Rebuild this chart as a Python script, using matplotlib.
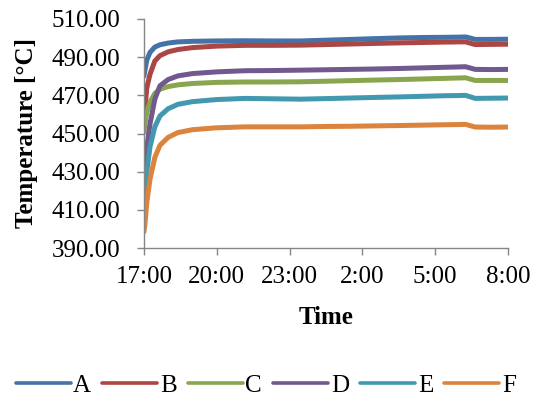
import matplotlib.pyplot as plt

plt.rcParams['font.family'] = ['Liberation Serif', 'DejaVu Serif']

# Furnace temperature logs, hours since 17:00
hours = [0, 0.04, 0.12, 0.25, 0.45, 0.66, 1.0, 1.4, 2.0, 3.0, 4.17,
         5.3, 6.45, 7.5, 8.5, 9.5, 10.6, 11.5, 12.4, 13.0, 13.25, 13.45, 13.65, 14.3, 15.0]

temp_a = [480.0, 483.0, 488.5, 492.5, 495.3, 496.5, 497.4, 498.0, 498.3, 498.5, 498.6,
          498.5, 498.5, 498.9, 499.3, 499.7, 500.1, 500.3, 500.4, 500.5, 500.6, 500.0, 499.3, 499.3, 499.4]
temp_b = [458.5, 463.0, 474.0, 481.0, 488.0, 490.8, 492.8, 494.0, 495.0, 495.8, 496.2,
          496.2, 496.3, 496.6, 496.9, 497.2, 497.5, 497.7, 497.9, 498.0, 498.0, 497.3, 496.6, 496.7, 496.8]
temp_c = [450.5, 455.0, 461.0, 466.5, 471.0, 473.2, 474.6, 475.5, 476.2, 476.8, 477.0,
          477.0, 477.1, 477.4, 477.7, 478.0, 478.3, 478.6, 478.9, 479.1, 479.2, 478.5, 477.8, 477.8, 477.8]
temp_d = [430.0, 435.0, 443.0, 455.0, 468.0, 475.0, 478.3, 480.2, 481.4, 482.3, 482.9,
          483.0, 483.2, 483.4, 483.6, 483.8, 484.1, 484.4, 484.7, 484.9, 485.0, 484.3, 483.6, 483.5, 483.6]
temp_e = [410.0, 416.0, 430.0, 443.0, 453.5, 459.2, 463.0, 465.3, 466.7, 467.8, 468.4,
          468.2, 468.0, 468.3, 468.6, 468.9, 469.2, 469.5, 469.8, 469.9, 470.0, 469.2, 468.4, 468.5, 468.6]
temp_f = [398.5, 402.0, 414.0, 426.0, 437.5, 443.8, 448.0, 450.5, 452.0, 453.0, 453.5,
          453.5, 453.5, 453.7, 453.8, 454.0, 454.2, 454.4, 454.6, 454.7, 454.8, 454.1, 453.4, 453.3, 453.4]

series = [('A', temp_a), ('B', temp_b), ('C', temp_c),
          ('D', temp_d), ('E', temp_e), ('F', temp_f)]
colors = ['#4572A7', '#AA4643', '#89A54E', '#71588F', '#4198AF', '#DB843D']

tick_hours = [0, 3, 6, 9, 12, 15]
tick_labels = ['17:00', '20:00', '23:00', '2:00', '5:00', '8:00']

fig = plt.figure(figsize=(5.39, 4.04), dpi=100)
ax = fig.add_axes([0.267, 0.386, 0.6755, 0.567])

for (name, vals), c in zip(series, colors):
    ax.plot(hours, vals, color=c, lw=3.6, label=name,
            solid_capstyle='round', solid_joinstyle='round')

ax.set_xlim(0, 15)
ax.set_ylim(390, 510)
ax.set_yticks(range(390, 511, 20))
ax.set_yticklabels([f'{v:.2f}' for v in range(390, 511, 20)])
ax.set_xticks(tick_hours)
ax.set_xticklabels(tick_labels)

for side in ['top', 'right']:
    ax.spines[side].set_visible(False)
for side in ['left', 'bottom']:
    ax.spines[side].set_color('#868686')
    ax.spines[side].set_linewidth(1.0)
ax.tick_params(axis='both', colors='#868686', labelcolor='black', labelsize=18,
               length=5, width=1.0)
ax.tick_params(axis='y', pad=12)
ax.tick_params(axis='x', pad=8)

fig.text(27 / 539, 0.672, 'Temperature [°C]', rotation=90, ha='center', va='center',
         fontsize=18, fontweight='bold')
fig.text(326 / 539, 1 - 318 / 404, 'Time', ha='center', va='center',
         fontsize=18, fontweight='bold')

leg = fig.legend(loc='center', bbox_to_anchor=(0.493, 0.046), ncol=6, frameon=False,
                 fontsize=18, handlelength=2.2, handletextpad=0.1, columnspacing=0.45,
                 borderaxespad=0)
for line in leg.get_lines():
    line.set_linewidth(2.6)

fig.savefig('out.png', dpi=100)
